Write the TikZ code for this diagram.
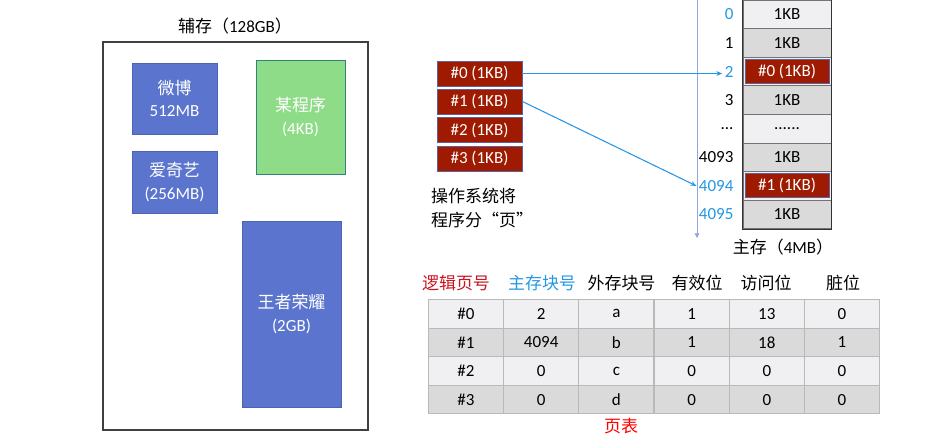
\documentclass[tikz,border=0pt]{standalone}
\usepackage{fontspec}
\usetikzlibrary{arrows.meta}
\setmainfont{Carlito}
\newfontfamily\cjk{Noto Sans CJK SC}
\definecolor{appblue}{RGB}{91,117,206}
\definecolor{appgreen}{RGB}{142,220,136}
\definecolor{pagered}{RGB}{158,26,0}
\definecolor{rowlight}{RGB}{240,240,242}
\definecolor{rowdark}{RGB}{218,218,218}
\definecolor{memblue}{RGB}{35,150,228}
\definecolor{headred}{RGB}{200,20,30}
\definecolor{gridgray}{RGB}{185,185,185}
\definecolor{axisblue}{RGB}{145,165,225}
\begin{document}
\begin{tikzpicture}[x=0.03cm, y=-0.03cm,
        every node/.style={font=\fontsize{14.5}{19}\selectfont},
        appbox/.style={rectangle, draw=appblue!85!black, fill=appblue, text=white, align=center, inner sep=0pt},
        progbox/.style={rectangle, draw=teal!60!gray, fill=appgreen, text=white, align=center, inner sep=0pt},
        page/.style={rectangle, draw=blue!25!gray, line width=0.8pt, fill=pagered, text=white, minimum width=2.55cm, minimum height=0.75cm, inner sep=0pt},
        memcell/.style={rectangle, draw=black!55, line width=0.8pt, minimum width=2.64cm, minimum height=0.858cm, inner sep=0pt},
        memlabel/.style={anchor=east, inner sep=2pt},
        tcell/.style={rectangle, draw=gridgray, line width=1pt, minimum width=2.256cm, minimum height=0.858cm, inner sep=0pt},
        arrow/.style={-{Stealth[length=5pt,width=4pt]}, line width=0.9pt, memblue},
        axis/.style={-{Triangle[length=4pt,width=4pt]}, line width=0.7pt, axisblue}
    ]
        \useasboundingbox (0,0) rectangle (930,436);
        \clip (0,0) rectangle (930,436);

        \node (disktitle) at (235,26) {{\cjk 辅存（}128GB{\cjk ）}};
        \node[draw=black!75, line width=0.9pt, minimum width=7.95cm, minimum height=11.64cm, inner sep=0pt] (disk) at (235.5,236) {};
        \node[appbox, minimum width=2.55cm, minimum height=2.13cm] (weibo) at (174.5,98.5) {{\cjk 微博}\\512MB};
        \node[progbox, minimum width=2.67cm, minimum height=3.42cm] (prog) at (300.5,117) {{\cjk 某程序}\\(4KB)};
        \node[appbox, minimum width=2.55cm, minimum height=1.86cm] (iqiyi) at (174.5,182) {{\cjk 爱奇艺}\\(256MB)};
        \node[appbox, minimum width=2.97cm, minimum height=5.58cm] (wzry) at (291.5,314) {{\cjk 王者荣耀}\\(2GB)};

        \foreach \i/\y in {0/73.5,1/101.5,2/130,3/158.5}
            \node[page] (p\i) at (479.5,\y) {\#\i\ (1KB)};
        \node[anchor=west, align=left, inner sep=0pt, font=\cjk\fontsize{14.5}{21}\selectfont] (split) at (431,208) {操作系统将\\程序分“页”};

        \coordinate (vtop) at (697,0);
        \coordinate (vbot) at (697,238);
        \draw[axis] (vtop) -- (vbot);

        \foreach \i/\lab/\lc/\txt in {0/0/memblue/1KB, 1/1/black/1KB, 2/2/memblue/{}, 3/3/black/1KB, 4/{...}/black/{......}, 5/4093/black/1KB, 6/4094/memblue/{}, 7/4095/memblue/1KB} {
            \pgfmathsetmacro\yc{14.3+28.6*\i}
            \edef\rowfill{\ifodd\i\space rowdark\else rowlight\fi}
            \node[memcell, fill=\rowfill] (m\i) at (787,\yc) {\txt};
            \node[memlabel, text=\lc] (l\i) at (736,\yc) {\lab};
        }
        \draw[black!80, line width=1pt] (m0.north west) -- (m7.south west) -- (m7.south east) -- (m0.north east);
        \node[page, minimum width=2.52cm, minimum height=0.72cm] (mp0) at (m2) {\#0 (1KB)};
        \node[page, minimum width=2.52cm, minimum height=0.72cm] (mp1) at (m6) {\#1 (1KB)};
        \node (memtitle) at (783,247) {{\cjk 主存（}4MB{\cjk ）}};

        \draw[arrow] (p0.east) -- (p0.east -| l2.west);
        \draw[arrow] (p1.east) -- (l6.west);

        \node[text=headred, font=\cjk\fontsize{14.5}{19}\selectfont] (h0) at (456,283) {逻辑页号};
        \node[text=memblue, font=\cjk\fontsize{14.5}{19}\selectfont] (h1) at (542,283) {主存块号};
        \node[font=\cjk\fontsize{14.5}{19}\selectfont] (h2) at (621.5,283) {外存块号};
        \node[font=\cjk\fontsize{14.5}{19}\selectfont] (h3) at (697,283) {有效位};
        \node[font=\cjk\fontsize{14.5}{19}\selectfont] (h4) at (766,283) {访问位};
        \node[font=\cjk\fontsize{14.5}{19}\selectfont] (h5) at (843,283) {脏位};

        \foreach \r/\a/\b/\c/\d/\e/\f in {0/\#0/2/a/1/13/0, 1/\#1/4094/b/1/18/1, 2/\#2/0/c/0/0/0, 3/\#3/0/d/0/0/0} {
            \edef\rowfill{\ifodd\r\space rowdark\else rowlight\fi}
            \foreach \col/\v in {0/\a,1/\b,2/\c,3/\d,4/\e,5/\f}
                \node[tcell, fill=\rowfill] (t\r\col) at (466+75.2*\col,313.8+28.6*\r) {\v};
        }
        \node[text=red, inner sep=0pt, font=\cjk\fontsize{14.5}{19}\selectfont] (ptable) at (621,426) {页表};
    \end{tikzpicture}
\end{document}
